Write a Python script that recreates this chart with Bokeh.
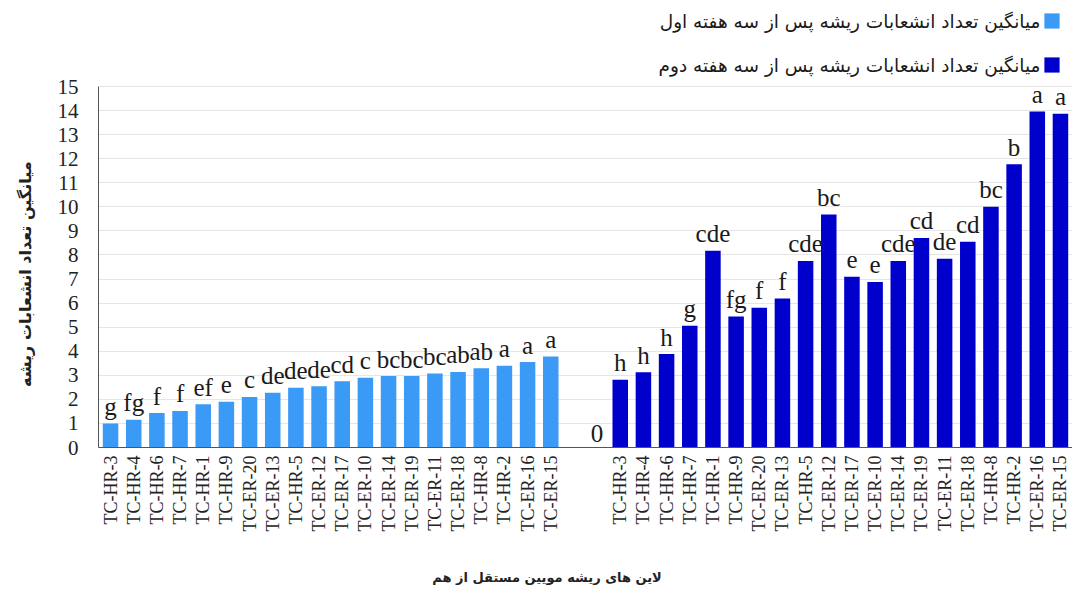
import math
from bokeh.plotting import figure
from bokeh.models import ColumnDataSource, FixedTicker, Legend, LegendItem, Label
from bokeh.core.properties import value
from bokeh.embed import file_html
from bokeh.resources import INLINE

# ---------------- data ----------------
lines = ["TC-HR-3", "TC-HR-4", "TC-HR-6", "TC-HR-7", "TC-HR-1", "TC-HR-9",
         "TC-ER-20", "TC-ER-13", "TC-HR-5", "TC-ER-12", "TC-ER-17", "TC-ER-10",
         "TC-ER-14", "TC-ER-19", "TC-ER-11", "TC-ER-18", "TC-HR-8", "TC-HR-2",
         "TC-ER-16", "TC-ER-15"]
week1 = [1.0, 1.15, 1.43, 1.52, 1.8, 1.9, 2.1, 2.27, 2.48, 2.54, 2.75, 2.9,
         2.97, 2.97, 3.07, 3.14, 3.29, 3.4, 3.55, 3.78]
week2 = [2.81, 3.13, 3.88, 5.06, 8.18, 5.44, 5.81, 6.19, 7.75, 9.68, 7.09, 6.88,
         7.75, 8.71, 7.84, 8.55, 10.0, 11.77, 13.96, 13.87]
letters1 = ["g", "fg", "f", "f", "ef", "e", "c", "de", "de", "de", "cd", "c",
            "bc", "bc", "bc", "ab", "ab", "a", "a", "a"]
letters2 = ["h", "h", "h", "g", "cde", "fg", "f", "f", "cde", "bc", "e", "e",
            "cde", "cd", "de", "cd", "bc", "b", "a", "a"]
gap_value = [0]
gap_text = ["0"]
y_ticks = list(range(0, 16))
legend_labels = ["میانگین تعداد انشعابات ریشه پس از سه هفته اول",
                 "میانگین تعداد انشعابات ریشه پس از سه هفته دوم"]
y_title = "میانگین تعداد انشعابات ریشه"
x_title = "لاین های ریشه مویین مستقل از هم"

LIGHT = "#3a9af5"
DARK = "#0000cc"
SERIF = "Liberation Serif"
PERSIAN = "DejaVu Sans"
NBSP = "\u00a0"

n = len(lines)
x1 = list(range(n))
gap_x = [n + 1]
x2 = [n + 2 + i for i in range(n)]

src1 = ColumnDataSource(dict(x=x1, top=week1, lbl=letters1))
src2 = ColumnDataSource(dict(x=x2, top=week2, lbl=letters2))

Y_MAX = y_ticks[-1]
# frame reaches the top of the figure so the legend sits inside it;
# the axis itself is bounded to 0..15
p = figure(width=1072, height=592, output_backend="svg", toolbar_location=None,
           x_range=(-0.52, x2[-1] + 0.52), y_range=(0, Y_MAX * 447 / 361),
           min_border_left=98, min_border_top=0, min_border_bottom=145,
           min_border_right=0)
p.outline_line_color = None
p.background_fill_color = "white"

r1 = p.vbar(x="x", top="top", width=0.67, source=src1, fill_color=LIGHT, line_color=None)
r2 = p.vbar(x="x", top="top", width=0.67, source=src2, fill_color=DARK, line_color=None)

for src in (src1, src2):
    p.text(x="x", y="top", text="lbl", source=src, text_align="center",
           text_baseline="alphabetic", y_offset=-17,
           text_font=value(SERIF), text_font_size="25px", text_color="#1a1a1a")
p.text(x=gap_x, y=gap_value, text=gap_text, text_align="center",
       text_baseline="alphabetic", y_offset=-14,
       text_font=value(SERIF), text_font_size="25px", text_color="#1a1a1a")

# axes
p.xaxis.ticker = FixedTicker(ticks=x1 + x2)
p.xaxis.major_label_overrides = {x: name for x, name in zip(x1 + x2, lines + lines)}
p.xaxis.major_label_orientation = math.pi / 2
p.xaxis.major_label_text_font = SERIF
p.xaxis.major_label_text_font_size = "18px"
p.xaxis.major_label_text_color = "#222222"
p.xaxis.major_label_standoff = 8
p.xaxis.major_tick_line_color = None
p.xaxis.minor_tick_line_color = None
p.xaxis.major_tick_out = 0
p.xaxis.major_tick_in = 0
p.xaxis.axis_line_color = "#555555"
p.xaxis.axis_label = x_title + NBSP * 17
p.xaxis.axis_label_text_font = PERSIAN
p.xaxis.axis_label_text_font_style = "bold"
p.xaxis.axis_label_text_font_size = "13px"
p.xaxis.axis_label_text_color = "#222222"
p.xaxis.axis_label_standoff = 36

p.yaxis.ticker = FixedTicker(ticks=y_ticks)
p.yaxis.bounds = (0, Y_MAX)
p.yaxis.major_label_text_font = SERIF
p.yaxis.major_label_text_font_size = "21px"
p.yaxis.major_label_text_color = "#222222"
p.yaxis.major_label_standoff = 20
p.yaxis.major_tick_line_color = None
p.yaxis.minor_tick_line_color = None
p.yaxis.major_tick_out = 0
p.yaxis.major_tick_in = 0
p.yaxis.axis_line_color = "#555555"
p.yaxis.axis_label = y_title + NBSP * 18
p.yaxis.axis_label_text_font = PERSIAN
p.yaxis.axis_label_text_font_style = "bold"
p.yaxis.axis_label_text_font_size = "16px"
p.yaxis.axis_label_text_color = "#222222"
p.yaxis.axis_label_standoff = 20

p.xgrid.visible = False
p.ygrid.ticker = FixedTicker(ticks=y_ticks)
p.ygrid.grid_line_color = "#e6e6e6"

# legend swatches (glyph-only legend at the top right)
swatches = Legend(items=[LegendItem(label=value(""), renderers=[r1]),
                         LegendItem(label=value(""), renderers=[r2])],
                  location="top_right", glyph_width=19, glyph_height=19,
                  label_width=0, label_height=19, label_standoff=0,
                  spacing=25, padding=0, margin=11,
                  border_line_color=None, background_fill_alpha=0)
p.add_layout(swatches)

# legend texts, right-aligned just left of each swatch (right-to-left layout)
for i, t in enumerate(legend_labels):
    p.add_layout(Label(x=942, y=426 - 44 * i, x_units="screen", y_units="screen",
                       text=t, text_align="right", text_baseline="middle",
                       text_font=PERSIAN, text_font_size="18.5px",
                       text_color="#1a1a1a"))

open("out.html", "w").write(file_html(p, INLINE))
